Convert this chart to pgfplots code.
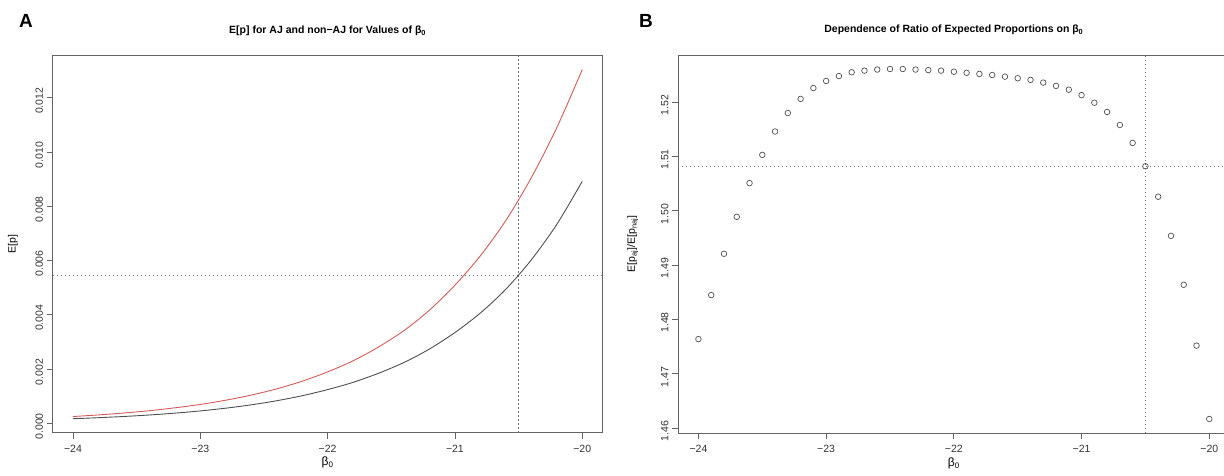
\documentclass[border=0pt]{standalone}
\usepackage{pgfplots}
\pgfplotsset{compat=1.18}
\usepackage{fontspec}
\setmainfont{Liberation Sans}
\definecolor{redc}{RGB}{212,90,90}
\definecolor{grayc}{RGB}{80,80,80}
\definecolor{framec}{RGB}{100,100,100}
\definecolor{dotc}{RGB}{110,110,110}

\pgfplotstableread{
b gray red
-24.0 0.000170 0.000251
-23.8 0.000208 0.000310
-23.6 0.000253 0.000381
-23.4 0.000308 0.000466
-23.2 0.000376 0.000572
-23.0 0.000457 0.000696
-22.8 0.000559 0.000853
-22.6 0.000682 0.001041
-22.4 0.000833 0.001271
-22.2 0.001018 0.001553
-22.0 0.001243 0.001896
-21.8 0.001511 0.002305
-21.6 0.001846 0.002815
-21.4 0.002244 0.003420
-21.2 0.002740 0.004173
-21.0 0.003347 0.005092
-20.8 0.004068 0.006176
-20.6 0.004944 0.007478
-20.4 0.006027 0.009056
-20.2 0.007332 0.010898
-20.0 0.008920 0.013038
}\curves

\pgfplotstableread{
b ratio
-24.0 1.4764
-23.9 1.4845
-23.8 1.4921
-23.7 1.4989
-23.6 1.5051
-23.5 1.5103
-23.4 1.5146
-23.3 1.5180
-23.2 1.5206
-23.1 1.5226
-23.0 1.5239
-22.9 1.5248
-22.8 1.5255
-22.7 1.5258
-22.6 1.5260
-22.5 1.5261
-22.4 1.5261
-22.3 1.5260
-22.2 1.5259
-22.1 1.5258
-22.0 1.5256
-21.9 1.5254
-21.8 1.5252
-21.7 1.5250
-21.6 1.5247
-21.5 1.5244
-21.4 1.5241
-21.3 1.5236
-21.2 1.5230
-21.1 1.5223
-21.0 1.5213
-20.9 1.5199
-20.8 1.5182
-20.7 1.5158
-20.6 1.5125
-20.5 1.5082
-20.4 1.5026
-20.3 1.4954
-20.2 1.4864
-20.1 1.4752
-20.0 1.4617
}\ratio

\pgfplotsset{
  rstyle/.style={
    scale only axis,
    axis line style={framec, line width=0.8pt},
    tick align=outside, tick pos=left, major tick length=6pt,
    every tick/.style={framec, line width=0.8pt},
    tick label style={font=\fontsize{10.5}{12}\selectfont, text=black!80},
    /pgf/number format/assume math mode=true,
    xmin=-24.16, xmax=-19.84,
    xtick={-24,-23,-22,-21,-20},
    xticklabels={−24,−23,−22,−21,−20},
    xticklabel style={yshift=-3pt},
    yticklabel style={rotate=90, anchor=south, xshift=-3pt},
    scaled y ticks=false,
    xlabel={β\textsubscript{0}},
    xlabel style={at={(axis description cs:0.5,-0.08)}, anchor=center, font=\fontsize{12}{14}\selectfont},
    ylabel style={anchor=center, font=\fontsize{10.5}{12}\selectfont},
    title style={at={(axis description cs:0.5,1.05)}, anchor=center, font=\bfseries\fontsize{10.5}{12}\selectfont},
  }
}

\begin{document}
\begin{tikzpicture}[x=1pt,y=1pt]
\useasboundingbox (0,0) rectangle (1224,476);

\begin{axis}[rstyle,
  at={(52.6pt,43.3pt)}, anchor=south west, width=550pt, height=377pt,
  ymin=-0.000345, ymax=0.013553,
  ytick={0,0.002,0.004,0.006,0.008,0.010,0.012},
  yticklabel style={/pgf/number format/fixed, /pgf/number format/fixed zerofill, /pgf/number format/precision=3},
  ylabel={E[p]},
  ylabel style={at={(axis description cs:-0.072,0.5)}},
  title={E[p] for AJ and non−AJ for Values of β\textsubscript{0}},
]
\addplot[dotc, line width=0.8pt, dash pattern=on 1.3pt off 2.7pt] coordinates {(-20.5,-0.000345) (-20.5,0.013553)};
\addplot[dotc, line width=0.8pt, dash pattern=on 1.3pt off 2.7pt] coordinates {(-24.16,0.00546) (-19.84,0.00546)};
\addplot[redc, line width=0.9pt, smooth] table[x=b, y=red] {\curves};
\addplot[grayc, line width=0.9pt, smooth] table[x=b, y=gray] {\curves};
\end{axis}

\begin{axis}[rstyle,
  at={(678pt,43pt)}, anchor=south west, width=551.7pt, height=378pt,
  ymin=1.45912, ymax=1.52868,
  ytick={1.46,1.47,1.48,1.49,1.50,1.51,1.52},
  yticklabel style={/pgf/number format/fixed, /pgf/number format/fixed zerofill, /pgf/number format/precision=2},
  ylabel={E[p\textsubscript{aj}]/E[p\textsubscript{naj}]},
  ylabel style={at={(axis description cs:-0.082,0.5)}},
  title={Dependence of Ratio of Expected Proportions on β\textsubscript{0}},
]
\addplot[dotc, line width=0.8pt, dash pattern=on 1.3pt off 2.7pt] coordinates {(-20.5,1.45912) (-20.5,1.52868)};
\addplot[dotc, line width=0.8pt, dash pattern=on 1.3pt off 2.7pt] coordinates {(-24.16,1.5082) (-19.84,1.5082)};
\addplot[only marks, mark=o, mark size=2.8pt, grayc, mark options={line width=0.7pt}] table[x=b, y=ratio] {\ratio};
\end{axis}

\node[font=\bfseries\fontsize{19}{22}\selectfont] at (26,455) {A};
\node[font=\bfseries\fontsize{19}{22}\selectfont] at (646,455) {B};
\end{tikzpicture}
\end{document}
